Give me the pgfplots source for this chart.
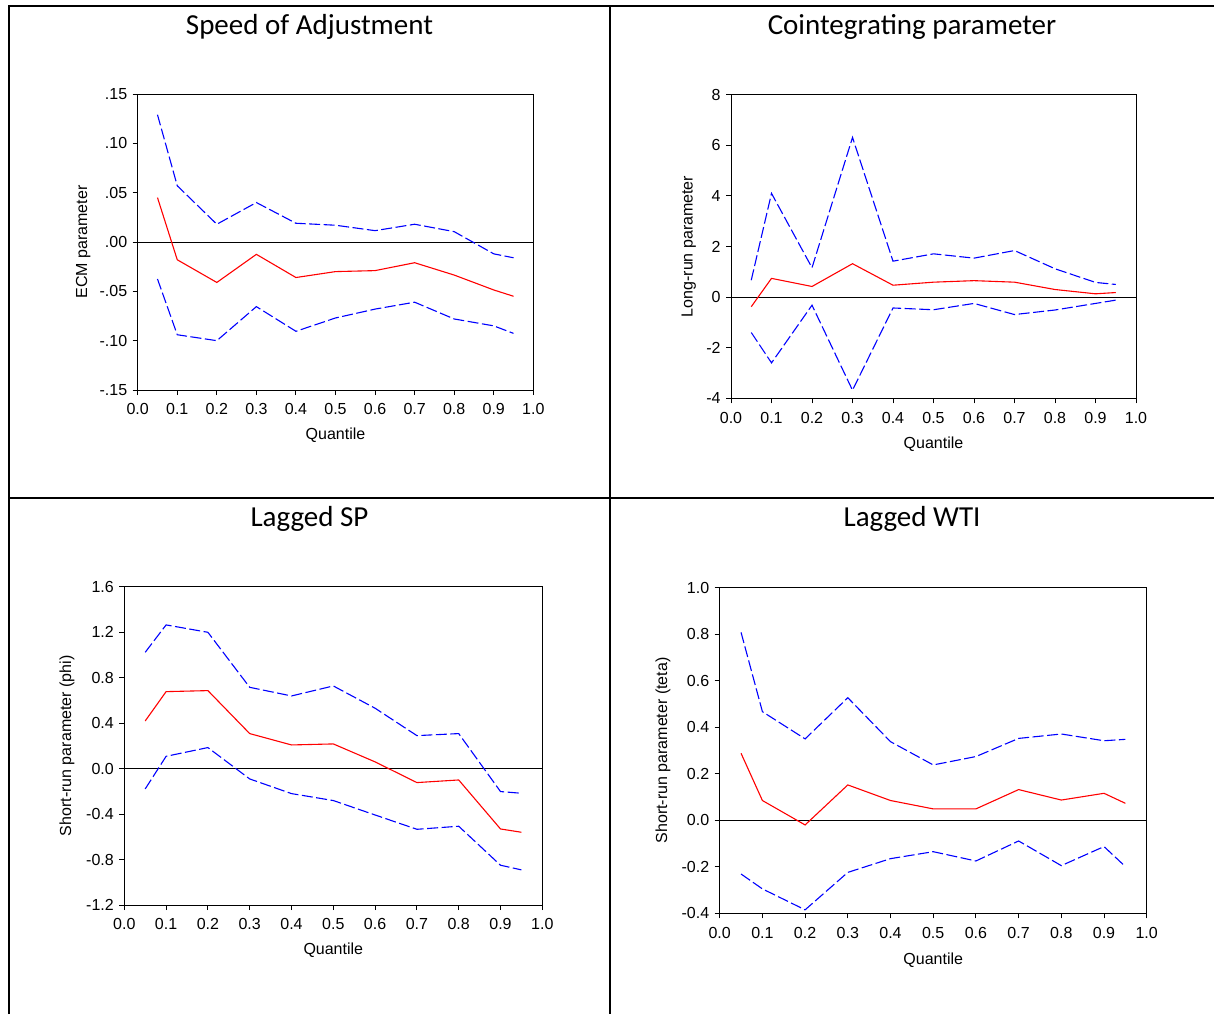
\documentclass[border=0pt]{standalone}
\usepackage{fontspec}
\setmainfont{Liberation Sans}
\newfontfamily\titlefont{Carlito}
\usepackage{pgfplots}
\pgfplotsset{compat=1.18}
\definecolor{eblue}{RGB}{0,0,255}
\definecolor{ered}{RGB}{255,0,0}
\pgfplotsset{
  eviews/.style={
    scale only axis,
    anchor=south west,
    xmin=0, xmax=1,
    xtick={0,0.1,0.2,0.3,0.4,0.5,0.6,0.7,0.8,0.9,1.0},
    xticklabels={0.0,0.1,0.2,0.3,0.4,0.5,0.6,0.7,0.8,0.9,1.0},
    tick align=outside,
    xtick pos=bottom, ytick pos=left,
    major tick length=5pt,
    axis line style={black, line width=1pt},
    every tick/.style={black, line width=1pt},
    tick label style={font=\fontsize{16}{19}\selectfont},
    label style={font=\fontsize{16}{19}\selectfont},
    xticklabel style={yshift=-5pt},
    yticklabel style={xshift=-2pt},
    xlabel={Quantile},
    clip=true,
  },
  ub/.style={eblue, line width=1.1pt, dash pattern=on 11pt off 3.5pt},
  est/.style={ered, line width=1.1pt},
  zl/.style={black, line width=1pt},
}
\begin{document}
\begin{tikzpicture}[x=1pt,y=1pt]
\useasboundingbox (0pt,0pt) rectangle (1214pt,-1014pt);
\fill[white] (0pt,0pt) rectangle (1214pt,-1014pt);
% table frame
\draw[line width=2pt] (9pt,-1014pt) -- (9pt,-6.5pt) -- (1214pt,-6.5pt);
\draw[line width=2pt] (610pt,-6.5pt) -- (610pt,-1014pt);
\draw[line width=2pt] (9pt,-497.5pt) -- (1214pt,-497.5pt);
% titles
\node[font=\titlefont\fontsize{29}{33}\selectfont, anchor=base] at (309.5pt,-35pt) {Speed of Adjustment};
\node[font=\titlefont\fontsize{29}{33}\selectfont, anchor=base] at (912pt,-35pt) {Cointegrating parameter};
\node[font=\titlefont\fontsize{29}{33}\selectfont, anchor=base] at (309.5pt,-526pt) {Lagged SP};
\node[font=\titlefont\fontsize{29}{33}\selectfont, anchor=base] at (912pt,-526pt) {Lagged WTI};

% Panel 1
\begin{axis}[eviews, at={(137.7pt,-390pt)}, width=395.6pt, height=296pt,
  ymin=-0.15, ymax=0.15,
  ytick={-0.15,-0.10,-0.05,0,0.05,0.10,0.15},
  yticklabels={-.15,-.10,-.05,.00,.05,.10,.15},
  ylabel={ECM parameter},
  ylabel style={at={(axis description cs:-0.138,0.5)}, anchor=center},
  xlabel style={at={(axis description cs:0.5,-0.152)}, anchor=center}]
\addplot[zl] coordinates {(0,0) (1,0)};
\addplot[ub] coordinates {(0.05,0.129) (0.1,0.057) (0.2,0.018) (0.3,0.040) (0.4,0.019) (0.5,0.017) (0.6,0.0115) (0.7,0.018) (0.8,0.0105) (0.9,-0.012) (0.95,-0.016)};
\addplot[est] coordinates {(0.05,0.045) (0.1,-0.018) (0.2,-0.041) (0.3,-0.0125) (0.4,-0.036) (0.5,-0.030) (0.6,-0.029) (0.7,-0.021) (0.8,-0.0335) (0.9,-0.0486) (0.95,-0.055)};
\addplot[ub] coordinates {(0.05,-0.0375) (0.1,-0.094) (0.2,-0.100) (0.3,-0.0655) (0.4,-0.0905) (0.5,-0.077) (0.6,-0.068) (0.7,-0.061) (0.8,-0.078) (0.9,-0.085) (0.95,-0.0926)};
\end{axis}

% Panel 2
\begin{axis}[eviews, at={(731pt,-398.3pt)}, width=405pt, height=303.6pt,
  ymin=-4, ymax=8,
  ytick={-4,-2,0,2,4,6,8},
  yticklabels={-4,-2,0,2,4,6,8},
  ylabel={Long-run parameter},
  ylabel style={at={(axis description cs:-0.104,0.5)}, anchor=center},
  xlabel style={at={(axis description cs:0.5,-0.150)}, anchor=center}]
\addplot[zl] coordinates {(0,0) (1,0)};
\addplot[ub] coordinates {(0.05,0.67) (0.1,4.10) (0.2,1.16) (0.3,6.31) (0.4,1.42) (0.5,1.71) (0.6,1.54) (0.7,1.84) (0.8,1.12) (0.9,0.58) (0.95,0.50)};
\addplot[est] coordinates {(0.05,-0.38) (0.1,0.74) (0.2,0.42) (0.3,1.32) (0.4,0.47) (0.5,0.59) (0.6,0.65) (0.7,0.59) (0.8,0.30) (0.9,0.13) (0.95,0.18)};
\addplot[ub] coordinates {(0.05,-1.40) (0.1,-2.60) (0.2,-0.32) (0.3,-3.68) (0.4,-0.43) (0.5,-0.50) (0.6,-0.25) (0.7,-0.69) (0.8,-0.51) (0.9,-0.25) (0.95,-0.12)};
\end{axis}

% Panel 3
\begin{axis}[eviews, at={(124.3pt,-905pt)}, width=418pt, height=318.3pt,
  ymin=-1.2, ymax=1.6,
  ytick={-1.2,-0.8,-0.4,0,0.4,0.8,1.2,1.6},
  yticklabels={-1.2,-0.8,-0.4,0.0,0.4,0.8,1.2,1.6},
  ylabel={Short-run parameter (phi)},
  ylabel style={at={(axis description cs:-0.137,0.5)}, anchor=center},
  xlabel style={at={(axis description cs:0.5,-0.141)}, anchor=center}]
\addplot[zl] coordinates {(0,0) (1,0)};
\addplot[ub] coordinates {(0.05,1.023) (0.1,1.264) (0.2,1.199) (0.3,0.715) (0.4,0.639) (0.5,0.727) (0.6,0.531) (0.7,0.290) (0.8,0.308) (0.9,-0.202) (0.95,-0.217)};
\addplot[est] coordinates {(0.05,0.419) (0.1,0.677) (0.2,0.686) (0.3,0.308) (0.4,0.208) (0.5,0.217) (0.6,0.059) (0.7,-0.123) (0.8,-0.100) (0.9,-0.531) (0.95,-0.560)};
\addplot[ub] coordinates {(0.05,-0.179) (0.1,0.108) (0.2,0.185) (0.3,-0.091) (0.4,-0.220) (0.5,-0.281) (0.6,-0.408) (0.7,-0.534) (0.8,-0.507) (0.9,-0.850) (0.95,-0.891)};
\end{axis}

% Panel 4
\begin{axis}[eviews, at={(719.7pt,-913.3pt)}, width=427pt, height=325.6pt,
  ymin=-0.4, ymax=1.0,
  ytick={-0.4,-0.2,0,0.2,0.4,0.6,0.8,1.0},
  yticklabels={-0.4,-0.2,0.0,0.2,0.4,0.6,0.8,1.0},
  ylabel={Short-run parameter (teta)},
  ylabel style={at={(axis description cs:-0.133,0.5)}, anchor=center},
  xlabel style={at={(axis description cs:0.5,-0.143)}, anchor=center}]
\addplot[zl] coordinates {(0,0) (1,0)};
\addplot[ub] coordinates {(0.05,0.808) (0.1,0.467) (0.2,0.350) (0.3,0.527) (0.4,0.338) (0.5,0.238) (0.6,0.274) (0.7,0.352) (0.8,0.371) (0.9,0.342) (0.95,0.348)};
\addplot[est] coordinates {(0.05,0.288) (0.1,0.085) (0.2,-0.020) (0.3,0.152) (0.4,0.085) (0.5,0.049) (0.6,0.049) (0.7,0.132) (0.8,0.087) (0.9,0.116) (0.95,0.073)};
\addplot[ub] coordinates {(0.05,-0.231) (0.1,-0.295) (0.2,-0.385) (0.3,-0.224) (0.4,-0.165) (0.5,-0.135) (0.6,-0.175) (0.7,-0.089) (0.8,-0.195) (0.9,-0.113) (0.95,-0.199)};
\end{axis}
\end{tikzpicture}
\end{document}
